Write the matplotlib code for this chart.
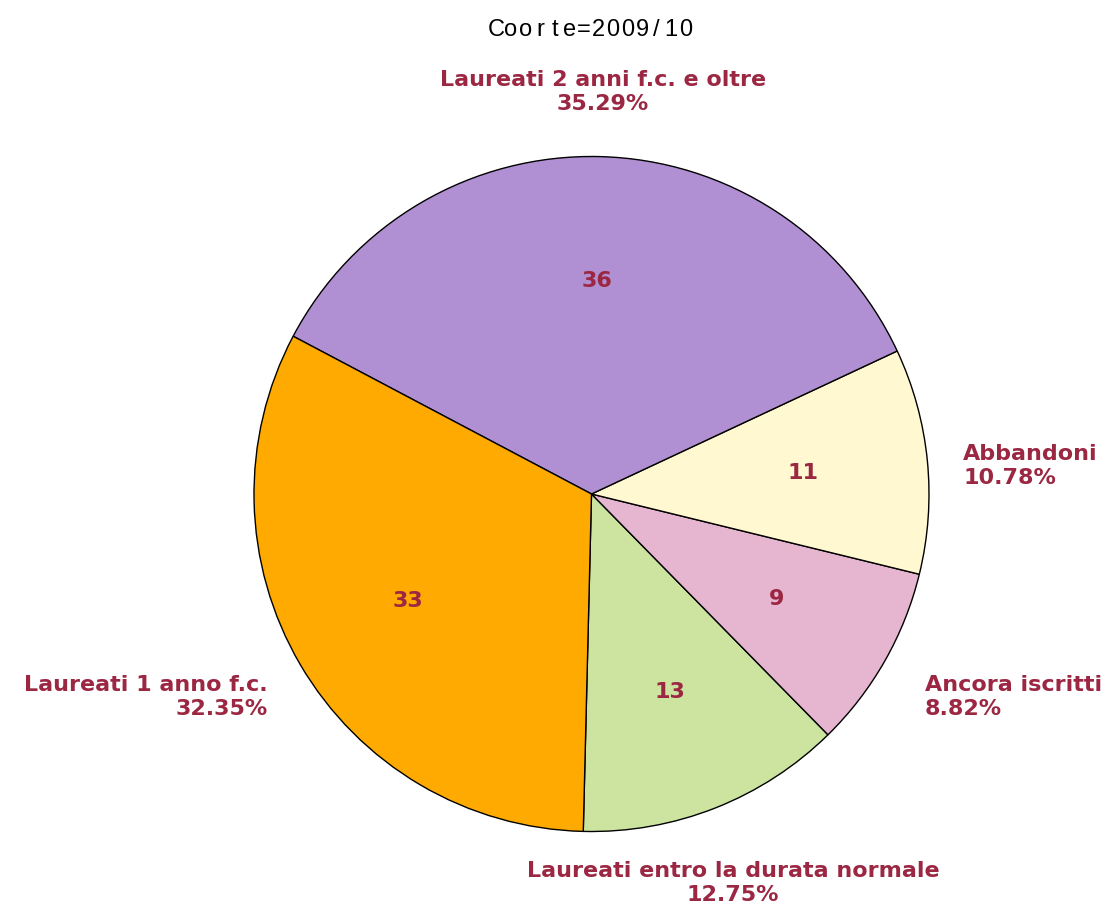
import matplotlib
matplotlib.use("Agg")
import matplotlib.pyplot as plt

# Dati
categorie = ["Laureati entro la durata normale", "Ancora iscritti", "Abbandoni",
             "Laureati 2 anni f.c. e oltre", "Laureati 1 anno f.c."]
valori = [13, 9, 11, 36, 33]
colori = ["#CCE4A0", "#E6B6D0", "#FFF8D0", "#B090D2", "#FFAA00"]
titolo = "Coorte=2009/10"

ROSSO = "#9B2743"
W, H = 1113, 913
CX, CY, R = 591.5, H - 494, 337.5

fig = plt.figure(figsize=(W / 100, H / 100), dpi=100)
ax = fig.add_axes([0, 0, 1, 1])

wedges, _, autotexts = ax.pie(
    valori, colors=colori, startangle=-91.4, counterclock=True,
    center=(CX, CY), radius=R, pctdistance=0.63,
    autopct=lambda p: "%d" % round(p * sum(valori) / 100),
    wedgeprops=dict(edgecolor="black", linewidth=1.0),
    textprops=dict(color=ROSSO, fontsize=16, fontweight="bold"),
    frame=True)
ax.set_xlim(0, W)
ax.set_ylim(0, H)
ax.axis("off")

# posizioni etichette esterne (pixel dall'alto) e allineamento
pos = [(733, 883), (925, 697), (963, 466), (603, 92), (268, 697)]
allin = ["center", "left", "left", "center", "right"]
totale = sum(valori)
for (x, y), cat, v, ha in zip(pos, categorie, valori, allin):
    ax.text(x, H - y, "%s\n%.2f%%" % (cat, 100 * v / totale), ha=ha, va="center",
            multialignment=ha, color=ROSSO, fontsize=16, fontweight="bold",
            linespacing=1.3)

# titolo con spaziatura tra le lettere
passo = 14.6
x0 = 591 - passo * (len(titolo) - 1) / 2
for i, c in enumerate(titolo):
    ax.text(x0 + i * passo, H - 30, c, ha="center", va="center", fontsize=17,
            family=["Liberation Sans Narrow", "Liberation Sans"], color="black")

fig.savefig("out.png", dpi=100)
